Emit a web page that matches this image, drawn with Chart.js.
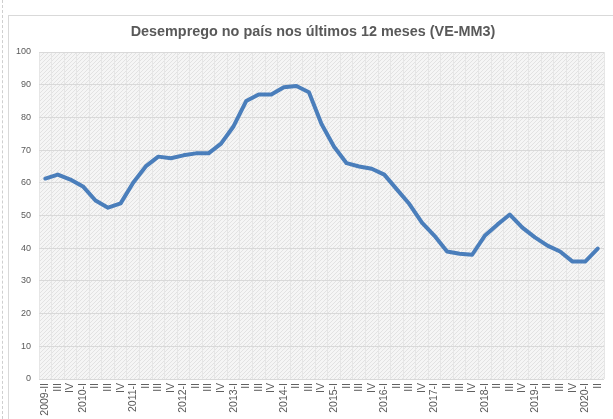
<!DOCTYPE html>
<html><head><meta charset="utf-8">
<script src="https://cdn.jsdelivr.net/npm/chart.js@4"></script>
<style>
html,body{margin:0;padding:0;background:#fff;overflow:hidden;}
#wrap{position:absolute;left:8px;top:15px;width:611px;height:404px;border-top:1px solid #d9d9d9;border-left:1px solid #d9d9d9;box-sizing:border-box;}
#edge{position:absolute;left:2px;top:0;height:419px;border-left:1px dashed #cfcfcf;}
#title{position:absolute;left:113px;width:400px;top:23px;line-height:18px;text-align:center;
  font:bold 14.4px "Liberation Sans", Arial, sans-serif;color:#595959;white-space:nowrap;}
</style></head>
<body>
<div id="edge"></div>
<div id="wrap"><canvas id="c"></canvas></div>
<div id="title"></div>
<script>
const tickLabels = ['2009-II','III','IV',
 '2010-I','II','III','IV','2011-I','II','III','IV','2012-I','II','III','IV',
 '2013-I','II','III','IV','2014-I','II','III','IV','2015-I','II','III','IV',
 '2016-I','II','III','IV','2017-I','II','III','IV','2018-I','II','III','IV',
 '2019-I','II','III','IV','2020-I','II'];
const seriesValues = [61.3, 62.5, 61,
 58.9, 54.6, 52.4, 53.7,
 60, 65, 68, 67.5,
 68.4, 69, 69, 72,
 77.3, 85, 87, 87,
 89.2, 89.6, 87.7, 78,
 71, 66, 65, 64.3,
 62.5, 58, 53.5, 47.8,
 43.8, 39, 38.3, 38,
 43.8, 47.2, 50.3, 46.3,
 43.3, 40.8, 39, 35.9,
 35.9, 39.9];
const titleText = 'Desemprego no país nos últimos 12 meses (VE-MM3)';
document.getElementById('title').textContent = titleText;

function makePattern(ctx){
  const p = document.createElement('canvas');
  p.width = 4; p.height = 4;
  const g = p.getContext('2d');
  g.fillStyle = '#f5f5f5'; g.fillRect(0,0,4,4);
  g.fillStyle = '#e2e2e2';
  g.fillRect(0,3,1,1); g.fillRect(1,2,1,1); g.fillRect(2,1,1,1); g.fillRect(3,0,1,1);
  return ctx.createPattern(p,'repeat');
}
const bgPlugin = {
  id:'bgPattern',
  beforeDraw(chart){
    const {ctx, chartArea:a} = chart;
    ctx.save();
    ctx.fillStyle = makePattern(ctx);
    ctx.fillRect(a.left, a.top, a.right-a.left, a.bottom-a.top);
    ctx.restore();
  }
};

new Chart(document.getElementById('c'), {
  type:'line',
  data:{ labels: tickLabels, datasets:[{
    data: seriesValues,
    borderColor:'#4a7ebb', borderWidth:4, pointRadius:0, tension:0,
    borderJoinStyle:'round', borderCapStyle:'round', fill:false
  }]},
  options:{
    responsive:true, maintainAspectRatio:false, animation:false,
    layout:{padding:{left:0,right:15,top:36,bottom:0}},
    plugins:{
      legend:{display:false}, tooltip:{enabled:false}, title:{display:false}
    },
    scales:{
      x:{ offset:true,
        grid:{display:true, offset:true, color:'#e6e6e6', drawTicks:false},
        border:{display:false},
        ticks:{autoSkip:false, maxRotation:90, minRotation:90, padding:4,
          color:'#595959', font:{family:'"Liberation Sans", Arial, sans-serif', size:10.5}},
        afterFit(s){ s.height = 40; }
      },
      y:{ min:0, max:100,
        grid:{color:'#d9d9d9', drawTicks:false},
        border:{display:false},
        ticks:{stepSize:10, padding:8, color:'#595959',
          font:{family:'"Liberation Sans", Arial, sans-serif', size:9}},
        afterFit(s){ s.width = 30; }
      }
    }
  },
  plugins:[bgPlugin]
});
</script>
</body></html>
